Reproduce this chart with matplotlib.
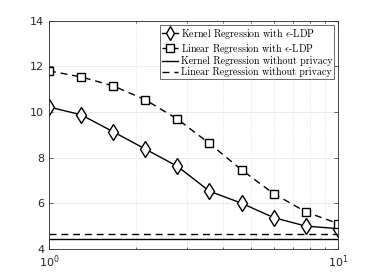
import numpy as np
import matplotlib
matplotlib.use("Agg")
import matplotlib.pyplot as plt
from matplotlib.ticker import LogLocator, NullFormatter

# privacy budget epsilon (log spaced between 1 and 10)
eps = [1.0, 1.29, 1.67, 2.15, 2.78, 3.59, 4.64, 5.99, 7.74, 10.0]
kernel_ldp = [10.22, 9.88, 9.13, 8.38, 7.62, 6.53, 6.0, 5.37, 5.0, 4.89]
linear_ldp = [11.8, 11.54, 11.14, 10.54, 9.69, 8.62, 7.46, 6.42, 5.62, 5.11]
kernel_noprivacy = 4.45
linear_noprivacy = 4.64

labels = ["Kernel Regression with $\\epsilon$-LDP",
          "Linear Regression with $\\epsilon$-LDP",
          "Kernel Regression without privacy",
          "Linear Regression without privacy"]

plt.rcParams['mathtext.fontset'] = 'cm'

fig = plt.figure(figsize=(3.74, 2.8), dpi=100)
ax = fig.add_axes([0.131, 0.111, 0.773, 0.815])

ax.plot(eps, kernel_ldp, color='black', lw=1.0, marker='d', ms=8.5,
        mfc='white', mec='black', mew=1.0, label=labels[0])
ax.plot(eps, linear_ldp, color='black', lw=1.0, ls=(0, (5, 3.5)), marker='s', ms=6,
        mfc='white', mec='black', mew=1.0, label=labels[1])
ax.plot([eps[0], eps[-1]], [kernel_noprivacy] * 2, color='black', lw=1.0, label=labels[2])
ax.plot([eps[0], eps[-1]], [linear_noprivacy] * 2, color='black', lw=1.0,
        ls=(0, (5, 3.5)), label=labels[3])

ax.set_xscale('log')
ax.set_xlim(1, 10)
ax.set_ylim(4, 14)
ax.set_yticks([4, 6, 8, 10, 12, 14])
ax.xaxis.set_major_locator(LogLocator(base=10))
ax.xaxis.set_minor_locator(LogLocator(base=10, subs=np.arange(2, 10)))
ax.xaxis.set_minor_formatter(NullFormatter())

ax.grid(True, which='major', color='#e6e6e6', lw=0.6)
ax.grid(True, which='minor', axis='x', color='#dcdcdc', lw=0.6, ls=':')
ax.set_axisbelow(True)

for s in ax.spines.values():
    s.set_color('#262626')
    s.set_linewidth(0.6)
ax.tick_params(which='both', direction='in', top=True, right=True,
               colors='#262626', labelsize=8, length=3, width=0.5)
ax.tick_params(which='minor', length=1.5)

leg = ax.legend(loc='upper right', prop={'family': 'serif', 'size': 7.2},
                frameon=True, fancybox=False, edgecolor='#262626',
                borderpad=0.2, labelspacing=0.08, handlelength=1.6,
                handletextpad=0.3, borderaxespad=0.4, markerscale=0.85)
leg.get_frame().set_linewidth(0.6)
for t in leg.get_texts():
    t.set_fontfamily('cmr10')

fig.savefig('out.png', dpi=100)
